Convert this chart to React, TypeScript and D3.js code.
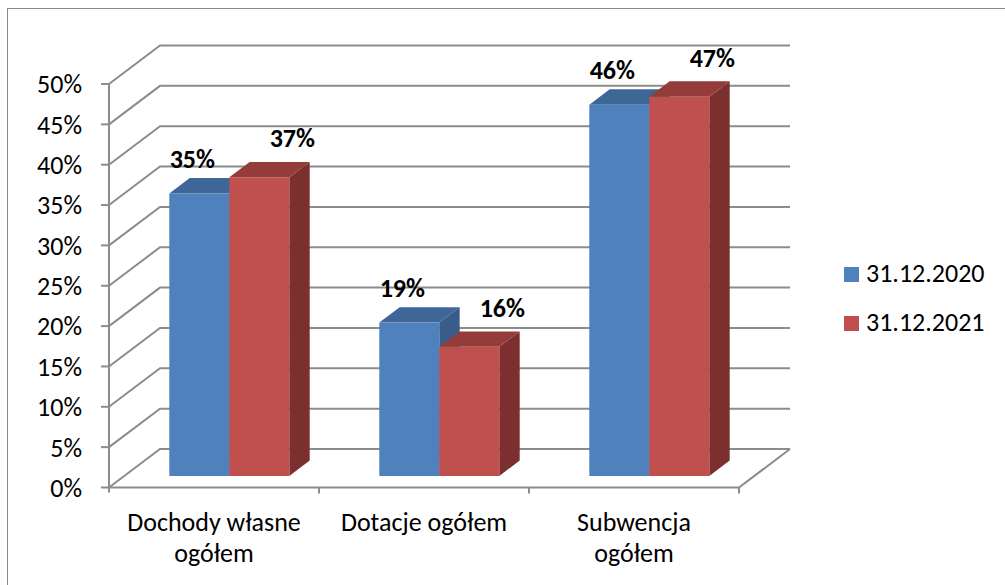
import React from "react";
import * as d3 from "d3";

const categories = ["Dochody własne ogółem", "Dotacje ogółem", "Subwencja ogółem"];
const categoryLines = [["Dochody własne", "ogółem"], ["Dotacje ogółem"], ["Subwencja", "ogółem"]];
const series = ["31.12.2020", "31.12.2021"];
const values2020 = [35, 19, 46];
const values2021 = [37, 16, 47];
const yTicks = [0, 5, 10, 15, 20, 25, 30, 35, 40, 45, 50];

const W = 1005;
const H = 585;
const FRONT_LEFT = 109;
const FRONT_RIGHT = 739;
const Y0 = 487.5;
const Y50 = 84;
const DX = 51;
const DY = -38.5;
const BAR_D0 = 0.3;
const BAR_D1 = 0.7;
const FONT = "Carlito, Lato, 'Open Sans', sans-serif";
const FS = 26;
const GRID = "#8c8c8c";

const palette = [
  { front: "#4f81bd", top: "#3e6797", side: "#385d8a", labelDx: -7, labelUp: 26 },
  { front: "#c0504d", top: "#933c3a", side: "#7b2f2e", labelDx: 33, labelUp: 30 },
];

export default function App() {
  const y = d3.scaleLinear().domain([0, 50]).range([Y0, Y50]);
  const x0 = d3.scaleBand<string>().domain(categories).range([FRONT_LEFT, FRONT_RIGHT]).padding(0);
  const x1 = d3
    .scaleBand<string>()
    .domain(series)
    .range([0, x0.bandwidth()])
    .paddingInner(0)
    .paddingOuter(0.75);
  const data = [values2020, values2021];

  const P = (x: number, v: number, d: number): [number, number] => [x + d * DX, y(v) + d * DY];
  const poly = (pts: [number, number][]) => pts.map((p) => p.join(",")).join(" ");

  const bars: React.ReactNode[] = [];
  const labels: React.ReactNode[] = [];
  categories.forEach((c, ci) => {
    series.forEach((s, si) => {
      const v = data[si][ci];
      const xl = (x0(c) as number) + (x1(s) as number);
      const xr = xl + x1.bandwidth();
      const col = palette[si];
      const front = [P(xl, 0, BAR_D0), P(xr, 0, BAR_D0), P(xr, v, BAR_D0), P(xl, v, BAR_D0)];
      const top = [P(xl, v, BAR_D0), P(xr, v, BAR_D0), P(xr, v, BAR_D1), P(xl, v, BAR_D1)];
      const side = [P(xr, 0, BAR_D0), P(xr, 0, BAR_D1), P(xr, v, BAR_D1), P(xr, v, BAR_D0)];
      bars.push(
        <g key={`b${ci}${si}`}>
          <polygon points={poly(side)} fill={col.side} />
          <polygon points={poly(top)} fill={col.top} />
          <polygon points={poly(front)} fill={col.front} />
        </g>
      );
      const [fx, fy] = P((xl + xr) / 2, v, BAR_D0);
      labels.push(
        <text
          key={`l${ci}${si}`}
          x={fx + col.labelDx}
          y={fy - col.labelUp}
          textAnchor="middle"
          fontFamily={FONT}
          fontWeight="bold"
          fontSize={FS}
          fill="#000"
        >
          {v}%
        </text>
      );
    });
  });

  return (
    <svg width={W} height={H} style={{ position: "absolute", left: 0, top: 0 }}>
      <rect x={0} y={0} width={W} height={H} fill="#fff" />
      <rect x={7.5} y={8.5} width={W + 20} height={H + 20} fill="none" stroke="#8a8a8a" strokeWidth={1} />
      {yTicks.map((t) => {
        const a = P(FRONT_LEFT, t, 0);
        const b = P(FRONT_LEFT, t, 1);
        const c = P(FRONT_RIGHT, t, 1);
        return (
          <g key={`g${t}`}>
            <polyline points={poly([a, b, c])} fill="none" stroke={GRID} strokeWidth={2} />
            <line x1={FRONT_LEFT - 8} x2={FRONT_LEFT} y1={a[1]} y2={a[1]} stroke={GRID} strokeWidth={2} />
            <text
              x={82}
              y={a[1]}
              dy="0.36em"
              textAnchor="end"
              fontFamily={FONT}
              fontSize={FS}
              fill="#000"
            >
              {t}%
            </text>
          </g>
        );
      })}
      <line x1={FRONT_LEFT} x2={FRONT_LEFT} y1={y(50)} y2={Y0 + 5} stroke={GRID} strokeWidth={2} />
      <polyline
        points={poly([P(FRONT_LEFT, 0, 0), P(FRONT_RIGHT, 0, 0), P(FRONT_RIGHT, 0, 1)])}
        fill="none"
        stroke={GRID}
        strokeWidth={2}
      />
      {categories.map((c, i) => (
        <line
          key={`t${i}`}
          x1={(x0(c) as number) + x0.bandwidth()}
          x2={(x0(c) as number) + x0.bandwidth()}
          y1={Y0}
          y2={Y0 + 6}
          stroke={GRID}
          strokeWidth={2}
        />
      ))}
      {bars}
      {labels}
      {categories.map((c, i) => (
        <text
          key={`c${i}`}
          x={(x0(c) as number) + x0.bandwidth() / 2}
          y={531}
          textAnchor="middle"
          fontFamily={FONT}
          fontSize={FS}
          fill="#000"
        >
          {categoryLines[i].map((ln, li) => (
            <tspan key={li} x={(x0(c) as number) + x0.bandwidth() / 2} dy={li === 0 ? 0 : 31}>
              {ln}
            </tspan>
          ))}
        </text>
      ))}
      {series.map((s, i) => (
        <g key={`lg${i}`} transform={`translate(844, ${267 + i * 49})`}>
          <rect x={0} y={0} width={15} height={15} fill={palette[i].front} />
          <text x={22} y={15} fontFamily={FONT} fontSize={FS} fill="#000">
            {s}
          </text>
        </g>
      ))}
    </svg>
  );
}
